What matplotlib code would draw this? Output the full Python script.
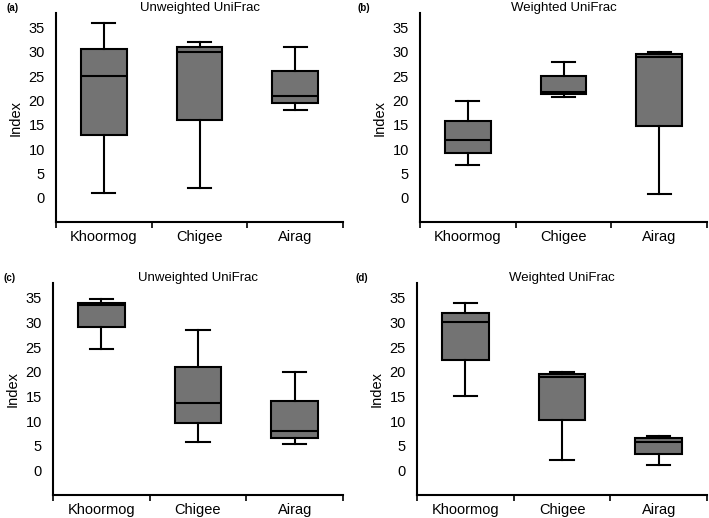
import matplotlib
matplotlib.use("Agg")
import matplotlib.pyplot as plt

plt.rcParams['font.family'] = ['Liberation Sans', 'DejaVu Sans']

categories = ["Khoormog", "Chigee", "Airag"]
panel_labels = ["(a)", "(b)", "(c)", "(d)"]
titles = ["Unweighted UniFrac", "Weighted UniFrac", "Unweighted UniFrac", "Weighted UniFrac"]
yticks = [0, 5, 10, 15, 20, 25, 30, 35]

# per panel: [whislo, q1, median, q3, whishi] for each category
a_vals = [[1.0, 13.0, 25.0, 30.5, 36.0], [2.0, 16.0, 30.0, 31.0, 32.0], [18.0, 19.5, 21.0, 26.0, 31.0]]
b_vals = [[6.8, 9.2, 11.8, 15.8, 19.8], [20.8, 21.3, 21.8, 25.0, 28.0], [0.8, 14.8, 29.0, 29.5, 30.0]]
c_vals = [[24.7, 29.0, 33.5, 34.0, 34.7], [5.8, 9.6, 13.6, 21.0, 28.5], [5.3, 6.6, 8.0, 14.0, 20.0]]
d_vals = [[15.0, 22.3, 30.0, 32.0, 34.0], [2.0, 10.3, 19.0, 19.5, 20.0], [1.0, 3.4, 5.8, 6.5, 7.0]]
panels = [a_vals, b_vals, c_vals, d_vals]

fig = plt.figure(figsize=(7.09, 5.18), dpi=100)
W, H = 709, 518
rects_px = [(56, 13, 343, 222), (420, 13, 707, 222), (53, 283, 343, 495), (417, 283, 707, 495)]

for i, (vals, (l, t, r, b)) in enumerate(zip(panels, rects_px)):
    ax = fig.add_axes([l / W, 1 - b / H, (r - l) / W, (b - t) / H])
    stats = []
    for cat, v in zip(categories, vals):
        stats.append(dict(label=cat, whislo=v[0], q1=v[1], med=v[2], q3=v[3], whishi=v[4], fliers=[]))
    lw = 1.5
    ax.bxp(stats, positions=[1, 2, 3], widths=0.48, patch_artist=True, showfliers=False,
           boxprops=dict(facecolor="#737373", edgecolor="black", linewidth=lw),
           medianprops=dict(color="black", linewidth=lw),
           whiskerprops=dict(color="black", linewidth=lw),
           capprops=dict(color="black", linewidth=lw),
           capwidths=0.24)
    ax.set_xlim(0.5, 3.5)
    ax.set_ylim(-5, 38)
    ax.set_yticks(yticks)
    ax.set_yticklabels([str(y) for y in yticks], fontsize=10.5)
    ax.tick_params(axis='y', length=0, pad=8)
    ax.set_xticks([0.5, 1.5, 2.5, 3.5])
    ax.set_xticklabels([])
    ax.set_xticks([1, 2, 3], minor=True)
    ax.set_xticklabels(categories, minor=True, fontsize=10.5)
    ax.tick_params(axis='x', which='major', length=4, width=1.2, direction='out')
    ax.tick_params(axis='x', which='minor', length=0, pad=6)
    for s in ['top', 'right']:
        ax.spines[s].set_visible(False)
    for s in ['left', 'bottom']:
        ax.spines[s].set_linewidth(1.5)
    ax.set_ylabel("Index", fontsize=10.5, labelpad=4)
    fig.text((l + r) / 2 / W, 1 - (t - 5) / H, titles[i], fontsize=9.5, ha='center', va='center')
    fig.text((l - 50) / W if i % 2 == 0 else (l - 62) / W, 1 - (t - 5) / H, panel_labels[i],
             fontsize=7, fontweight='bold', va='center', ha='left')

fig.savefig("out.png", dpi=100)
